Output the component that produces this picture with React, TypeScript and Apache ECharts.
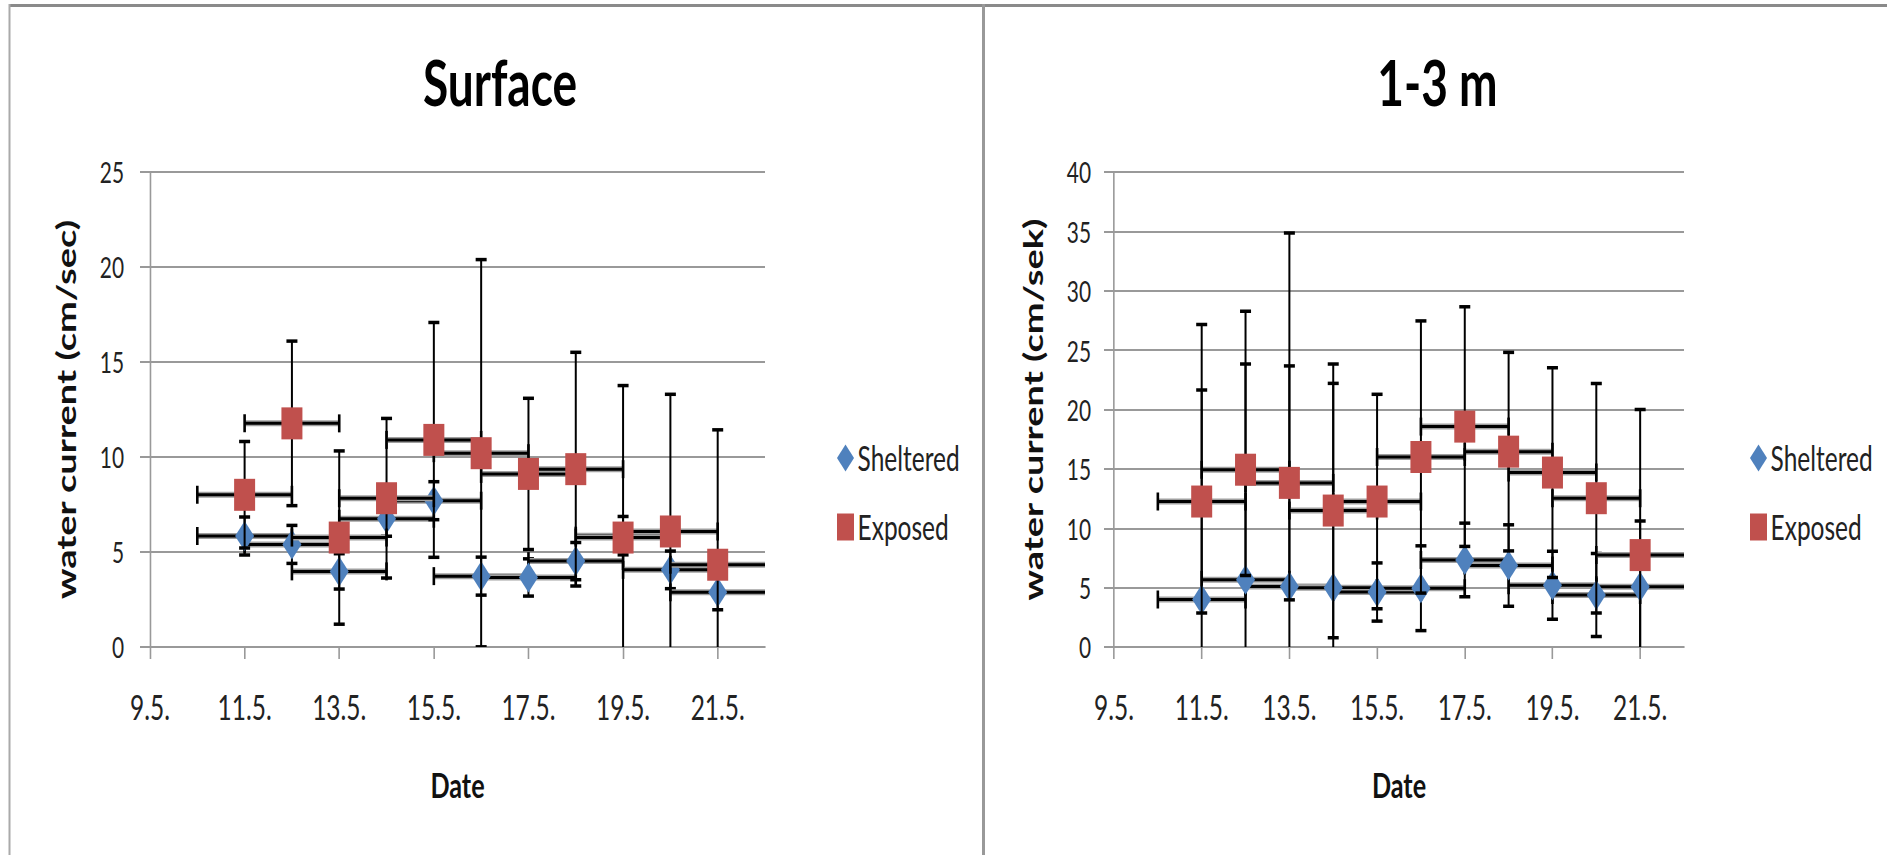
import React, { useEffect, useRef } from "react";
import * as echarts from "echarts";

// The reference is a horizontally squeezed picture: the chart is laid out on a
// wider virtual canvas and squeezed back with a CSS scaleX.
const S = 0.72;
const FULL_W = 1887;
const FULL_H = 855;
const VW = FULL_W / S;
const v = (fx: number) => fx / S;

// ---- data ----
const dates = ["11.5.", "12.5.", "13.5.", "14.5.", "15.5.", "16.5.", "17.5.", "18.5.", "19.5.", "20.5.", "21.5."];
const dayOfMay = [11, 12, 13, 14, 15, 16, 17, 18, 19, 20, 21];
const axisFirstDay = 9; // "9.5."
const axisLastDay = 22;
const tickDays = [9, 11, 13, 15, 17, 19, 21];
const xErrDays = 1;

const surfaceSheltered = [5.84, 5.4, 3.98, 6.75, 7.7, 3.73, 3.66, 4.52, 5.86, 4.06, 2.88];
const surfaceShelteredErr = [1.0, 1.0, 0.93, 0.92, 1.0, 1.0, 0.98, 0.98, 1.01, 0.99, 0.92];
const surfaceExposed = [8.01, 11.77, 5.76, 7.83, 10.9, 10.2, 9.11, 9.36, 5.76, 6.08, 4.33];
const surfaceExposedErr = [2.8, 4.33, 4.56, 4.2, 6.18, 10.19, 3.98, 6.15, 8.0, 7.22, 7.1];

const deepSheltered = [4.0, 5.66, 5.1, 4.98, 4.63, 4.95, 7.33, 6.86, 5.2, 4.38, 5.07];
const deepShelteredErr = [23.16, 22.62, 29.77, 18.85, 2.45, 3.57, 3.1, 3.43, 2.86, 3.5, 5.55];
const deepExposed = [12.25, 14.93, 13.82, 11.49, 12.25, 16.0, 18.56, 16.45, 14.69, 12.53, 7.74];
const deepExposedErr = [9.39, 8.9, 9.85, 10.71, 9.03, 11.46, 10.09, 8.36, 8.83, 9.67, 12.27];

const surfaceYTicks = { min: 0, max: 25, interval: 5 };
const deepYTicks = { min: 0, max: 40, interval: 5 };

const titles = ["Surface", "1-3 m"];
const yTitles = ["water current (cm/sec)", "water current (cm/sek)"];
const xTitle = "Date";
const seriesNames = ["Sheltered", "Exposed"];

const BLUE = "#4F81BD";
const RED = "#C0504D";
const FONT = "Lato, 'Open Sans', sans-serif";

const toX = (d: number) => d - axisFirstDay;
const X_MAX = toX(axisLastDay);

function points(vals: number[], errs: number[]) {
  return vals.map((y, i) => [toX(dayOfMay[i]), y, errs[i], dates[i]]);
}

function errRender(params: any, api: any) {
  const x = api.value(0);
  const y = api.value(1);
  const e = api.value(2);
  const c = api.coord([x, y]);
  const lowVal = y - e;
  const top = api.coord([x, y + e]);
  const bot = api.coord([x, Math.max(0, lowVal)]);
  const l = api.coord([x - xErrDays, y]);
  const r = api.coord([Math.min(X_MAX, x + xErrDays), y]);
  const capHalfW = v(5.5);
  const capHalfH = 9;
  const black = "#000";
  const kids: any[] = [
    { type: "line", shape: { x1: l[0], y1: c[1], x2: r[0], y2: c[1] }, style: { stroke: "#a0a0a0", lineWidth: 6 } },
    { type: "line", shape: { x1: l[0], y1: c[1], x2: r[0], y2: c[1] }, style: { stroke: black, lineWidth: 3 } },
    { type: "line", shape: { x1: l[0], y1: c[1] - capHalfH, x2: l[0], y2: c[1] + capHalfH }, style: { stroke: black, lineWidth: v(2.6) } },
    { type: "line", shape: { x1: c[0], y1: top[1], x2: c[0], y2: bot[1] }, style: { stroke: black, lineWidth: v(2.0) } },
    { type: "line", shape: { x1: c[0] - capHalfW, y1: top[1], x2: c[0] + capHalfW, y2: top[1] }, style: { stroke: black, lineWidth: 3.5 } },
  ];
  if (x + xErrDays < X_MAX) {
    kids.push({ type: "line", shape: { x1: r[0], y1: c[1] - capHalfH, x2: r[0], y2: c[1] + capHalfH }, style: { stroke: black, lineWidth: v(2.6) } });
  }
  if (lowVal >= 0) {
    kids.push({ type: "line", shape: { x1: c[0] - capHalfW, y1: bot[1], x2: c[0] + capHalfW, y2: bot[1] }, style: { stroke: black, lineWidth: 3.5 } });
  }
  return { type: "group", children: kids };
}

export default function App() {
  const ref = useRef<HTMLDivElement>(null);

  useEffect(() => {
    if (!ref.current) return;
    const chart = echarts.init(ref.current, null, { renderer: "svg" });

    const grids = [
      { left: v(150), top: 172, width: v(765 - 150), height: 475 },
      { left: v(1114), top: 172, width: v(1684 - 1114), height: 475 },
    ];
    const yTicks = [surfaceYTicks, deepYTicks];
    const yLabelMargin = [v(26), v(23)];
    const yNameGap = [v(85) - 19, v(82) - 19];

    const xAxes = grids.map((_, i) => ({
      type: "value",
      gridIndex: i,
      min: toX(axisFirstDay),
      max: X_MAX,
      interval: 2,
      name: xTitle,
      nameLocation: "middle",
      nameGap: 120,
      nameTextStyle: { fontFamily: FONT, fontWeight: "bold", fontSize: 35, color: "#111" },
      axisLine: { show: true, onZero: false, lineStyle: { color: "#999", width: 2 } },
      axisTick: { show: true, length: 12, customValues: tickDays.map(toX), lineStyle: { color: "#999", width: v(1.6) } },
      axisLabel: {
        show: true,
        customValues: tickDays.map(toX),
        margin: 43,
        fontFamily: FONT,
        fontSize: 34,
        color: "#222",
        formatter: (val: number) => `${Math.round(val + axisFirstDay)}.5.`,
      },
      splitLine: { show: false },
    }));

    const yAxes = grids.map((_, i) => ({
      type: "value",
      gridIndex: i,
      min: yTicks[i].min,
      max: yTicks[i].max,
      interval: yTicks[i].interval,
      name: yTitles[i],
      nameLocation: "middle",
      nameRotate: 90,
      nameGap: yNameGap[i],
      nameTextStyle: { fontFamily: FONT, fontWeight: "bold", fontSize: 38, color: "#111" },
      axisLine: { show: true, lineStyle: { color: "#999", width: v(1.6) } },
      axisTick: { show: true, length: v(10), lineStyle: { color: "#999", width: 2 } },
      axisLabel: { margin: yLabelMargin[i], fontFamily: FONT, fontSize: 29, color: "#222" },
      splitLine: { show: true, lineStyle: { color: "#999", width: 2 } },
    }));

    const panelData = [
      { sh: points(surfaceSheltered, surfaceShelteredErr), ex: points(surfaceExposed, surfaceExposedErr) },
      { sh: points(deepSheltered, deepShelteredErr), ex: points(deepExposed, deepExposedErr) },
    ];

    const series: any[] = [];
    panelData.forEach((p, i) => {
      series.push({
        type: "custom",
        name: `${seriesNames[0]} error`,
        xAxisIndex: i,
        yAxisIndex: i,
        renderItem: errRender,
        data: p.sh,
        clip: true,
        z: 2,
        encode: { x: 0, y: 1 },
      });
      series.push({
        type: "scatter",
        name: seriesNames[0],
        xAxisIndex: i,
        yAxisIndex: i,
        symbol: "diamond",
        symbolSize: [v(19), 30],
        itemStyle: { color: BLUE, opacity: 1 },
        data: p.sh.map((d) => [d[0], d[1]]),
        z: 3,
      });
      series.push({
        type: "custom",
        name: `${seriesNames[1]} error`,
        xAxisIndex: i,
        yAxisIndex: i,
        renderItem: errRender,
        data: p.ex,
        clip: true,
        z: 4,
        encode: { x: 0, y: 1 },
      });
      series.push({
        type: "scatter",
        name: seriesNames[1],
        xAxisIndex: i,
        yAxisIndex: i,
        symbol: "rect",
        symbolSize: [v(21), 32],
        itemStyle: { color: RED, opacity: 1 },
        data: p.ex.map((d) => [d[0], d[1]]),
        z: 5,
      });
    });

    const legendLefts = [v(837), v(1750)];
    const legends = legendLefts.map((left) => ({
      orient: "vertical",
      left,
      top: 441,
      padding: 0,
      itemWidth: v(17),
      itemHeight: 27,
      itemGap: 35,
      selectedMode: false,
      textStyle: { fontFamily: FONT, fontSize: 34, color: "#222" },
      data: [
        { name: seriesNames[0], icon: "diamond", itemStyle: { color: BLUE } },
        { name: seriesNames[1], icon: "rect", itemStyle: { color: RED } },
      ],
    }));

    const titleXs = [v(500), v(1437.5)];

    chart.setOption({
      animation: false,
      backgroundColor: "#fff",
      grid: grids,
      xAxis: xAxes,
      yAxis: yAxes,
      legend: legends,
      series,
      graphic: [
        { type: "rect", shape: { x: v(9), y: 4, width: VW, height: 3 }, style: { fill: "#8a8a8a" }, silent: true },
        { type: "rect", shape: { x: v(8.5), y: 4, width: v(2), height: FULL_H }, style: { fill: "#aaa" }, silent: true },
        { type: "rect", shape: { x: v(982), y: 4, width: v(3), height: FULL_H }, style: { fill: "#999" }, silent: true },
        ...titles.map((t, i) => ({
          type: "text",
          x: titleXs[i],
          y: 81,
          style: { text: t, fontFamily: FONT, fontWeight: "bold", fontSize: 64, fill: "#000", align: "center", verticalAlign: "middle" },
          silent: true,
        })),
      ],
    });

    return () => chart.dispose();
  }, []);

  return (
    <div style={{ position: "fixed", left: 0, top: 0, width: FULL_W, height: FULL_H, overflow: "hidden", background: "#fff" }}>
      <div
        ref={ref}
        style={{ width: VW, height: FULL_H, transform: `scaleX(${S})`, transformOrigin: "0 0" }}
      />
    </div>
  );
}
